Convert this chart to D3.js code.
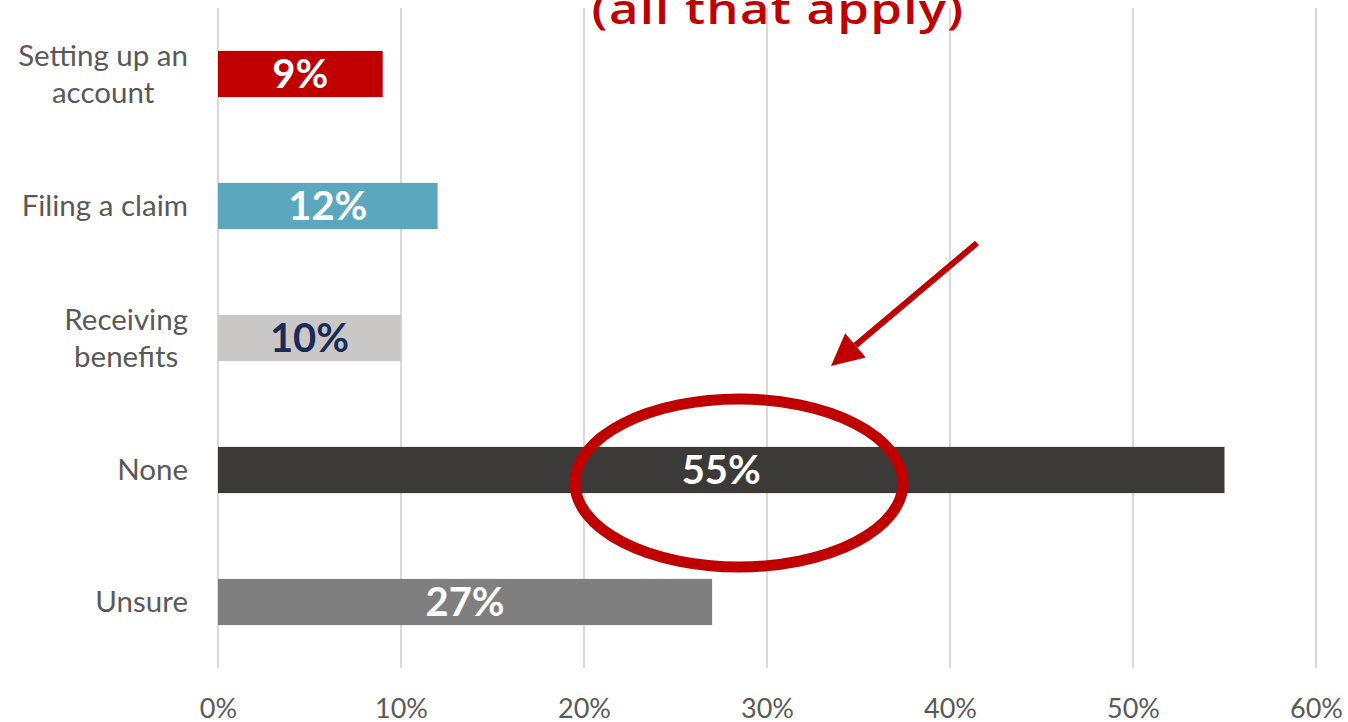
<!DOCTYPE html>
<html>
<head>
<meta charset="utf-8">
<script src="https://cdn.jsdelivr.net/npm/d3@7"></script>
<style>
  body { margin: 0; background: #fff; }
  svg { display: block; }
</style>
</head>
<body>
<script>
// data
const categories = ["Setting up an account", "Filing a claim", "Receiving benefits", "None", "Unsure"]
const labelLines = [["Setting up an", "account"], ["Filing a claim"], ["Receiving", "benefits"], ["None"], ["Unsure"]]
const values = [9, 12, 10, 55, 27]
const barColors = ["#C00000", "#5AA7BE", "#C9C8C7", "#3B3A38", "#7F7F7F"]
const valueColors = ["#fff", "#fff", "#1B2A57", "#fff", "#fff"]
const ticks = [0, 10, 20, 30, 40, 50, 60]
const title = "(all that apply)"

const W = 1348, H = 722

let svg = d3.select("body").append("svg")
    .attr("width", W)
    .attr("height", H)

let x = d3.scaleLinear().domain([0, 60]).range([218, 1316])
let y = d3.scaleBand().domain(categories).range([8, 668])
    .paddingInner(0.65).paddingOuter(0.325)

// gridlines
svg.append("g").selectAll("line")
    .data(ticks)
    .enter()
    .append("line")
    .attr("x1", d => x(d)).attr("x2", d => x(d))
    .attr("y1", 8).attr("y2", 668)
    .attr("stroke", "#D9D9D9")
    .attr("stroke-width", 2)

// x axis labels
let xAxis = svg.append("g")
    .attr("transform", "translate(0,699)")
    .call(d3.axisBottom(x).tickValues(ticks).tickSize(0).tickFormat(d => d + "%"))
xAxis.select(".domain").remove()
xAxis.selectAll("text")
    .attr("y", 0).attr("dy", "0.71em")
    .style("font-family", "Lato, 'Open Sans', sans-serif")
    .style("font-size", "27px")
    .attr("fill", "#595959")

// bars
svg.append("g").selectAll("rect")
    .data(values)
    .enter()
    .append("rect")
    .attr("x", x(0))
    .attr("y", (d, i) => y(categories[i]))
    .attr("width", d => x(d) - x(0))
    .attr("height", y.bandwidth())
    .attr("fill", (d, i) => barColors[i])

// value labels
svg.append("g").selectAll("text")
    .data(values)
    .enter()
    .append("text")
    .attr("x", d => (x(0) + x(d)) / 2)
    .attr("y", (d, i) => y(categories[i]) + y.bandwidth() / 2)
    .attr("dy", "0.36em")
    .attr("text-anchor", "middle")
    .style("font-family", "Lato, sans-serif")
    .style("font-weight", "bold")
    .style("font-size", "40px")
    .attr("fill", (d, i) => valueColors[i])
    .text(d => d + "%")

// category labels (lines centred on each other, block right aligned)
let catG = svg.append("g")
labelLines.forEach(function (lines, i) {
    let cy = y(categories[i]) + y.bandwidth() / 2
    let lh = 37.5
    let t = catG.append("text")
        .style("font-family", "Lato, sans-serif")
        .style("font-size", "29.5px")
        .attr("fill", "#595959")
        .attr("text-anchor", "middle")
    lines.forEach(function (ln, j) {
        t.append("tspan")
            .attr("y", cy + (j - (lines.length - 1) / 2) * lh)
            .attr("dy", "0.35em")
            .text(ln)
    })
    let maxW = 0
    t.selectAll("tspan").each(function () { maxW = Math.max(maxW, this.getComputedTextLength()) })
    t.selectAll("tspan").attr("x", 188 - maxW / 2)
})

// title (cut off at top in the original), stretched wide like the source font
let titleText = svg.append("text")
    .attr("x", 0)
    .attr("y", 0)
    .attr("text-anchor", "middle")
    .style("font-family", "'Open Sans', sans-serif")
    .style("font-weight", 600)
    .style("font-size", "41px")
    .style("letter-spacing", "1px")
    .attr("fill", "#C00000")
    .text(title)
let tw = titleText.node().getComputedTextLength()
titleText.attr("transform", "translate(778,24) scale(" + (373 / tw) + ",1)")

// annotation: ellipse around the None bar
let noneIdx = 3
let ey = y(categories[noneIdx]) + y.bandwidth() / 2 + 13
svg.append("ellipse")
    .attr("cx", 739)
    .attr("cy", ey)
    .attr("rx", 164)
    .attr("ry", 84)
    .attr("fill", "none")
    .attr("stroke", "#C00000")
    .attr("stroke-width", 11)

// arrow
let a0 = [977, 243], a1 = [831, 366]
let ang = Math.atan2(a1[1] - a0[1], a1[0] - a0[0])
let headLen = 32, headW = 16
let base = [a1[0] - headLen * Math.cos(ang), a1[1] - headLen * Math.sin(ang)]
svg.append("line")
    .attr("x1", a0[0]).attr("y1", a0[1])
    .attr("x2", base[0]).attr("y2", base[1])
    .attr("stroke", "#C00000")
    .attr("stroke-width", 6)
svg.append("path")
    .attr("d", "M" + a1[0] + "," + a1[1] +
        "L" + (base[0] + headW * Math.sin(ang)) + "," + (base[1] - headW * Math.cos(ang)) +
        "L" + (base[0] - headW * Math.sin(ang)) + "," + (base[1] + headW * Math.cos(ang)) + "Z")
    .attr("fill", "#C00000")
</script>
</body>
</html>
